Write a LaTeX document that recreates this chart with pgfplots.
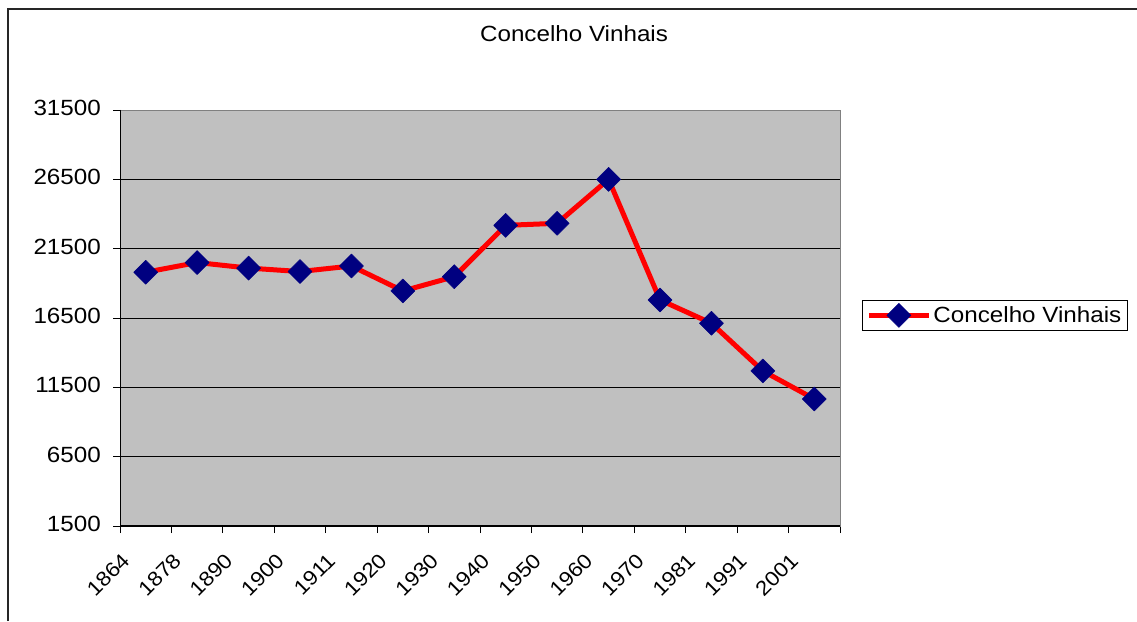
\documentclass[border=0pt]{standalone}
\usepackage{fontspec}
\setmainfont[FakeStretch=1.1]{Liberation Sans}
\usepackage{pgfplots}
\pgfplotsset{compat=1.18}
\definecolor{plotgray}{RGB}{192,192,192}
\definecolor{navymark}{RGB}{0,0,128}
\definecolor{framegray}{RGB}{128,128,128}
\newcommand\cf{\fontsize{22}{26}\selectfont}
\newcommand\xf{\fontsize{20.5}{24}\selectfont}
\begin{document}
\begin{tikzpicture}
\useasboundingbox (0pt,0pt) rectangle (1137pt,621pt);
\fill[white] (0pt,0pt) rectangle (1137pt,621pt);
\draw[black!85, line width=1.5pt] (8pt,0pt) -- (8pt,612pt) -- (1137pt,612pt);
\begin{axis}[
  at={(120pt,95pt)}, anchor=south west,
  scale only axis, width=720pt, height=416pt,
  xmin=0, xmax=14, ymin=1500, ymax=31500,
  xtick={0,...,14},
  xticklabels={1864,1878,1890,1900,1911,1920,1930,1940,1950,1960,1970,1981,1991,2001,{}},
  ytick={1500,6500,11500,16500,21500,26500,31500},
  scaled y ticks=false,
  /pgf/number format/.cd, set thousands separator={}, assume math mode=true,
  /pgfplots/.cd,
  tick align=outside, tick pos=left,
  major tick length=7pt,
  tick style={black, line width=0.8pt},
  ymajorgrids, major grid style={black, line width=0.8pt},
  axis line style={framegray, line width=0.8pt},
  axis background/.style={fill=plotgray},
  yticklabel style={font=\cf, anchor=east, inner sep=0pt, xshift=-12pt, yshift=2pt},
  xticklabel style={font=\xf, inner sep=0pt, xshift=6pt, yshift=-24pt, rotate=45, anchor=east},
  title={Concelho Vinhais},
  title style={at={(0.6306,1.1514)}, anchor=base, font=\cf, inner sep=0pt},
  legend style={at={(1.0306,0.5433)}, anchor=north west, draw=black, line width=0.8pt,
    font=\cf, inner xsep=4pt, inner ysep=3pt, fill=white},
  legend cell align=left,
  legend image code/.code={\draw[mark repeat=2,mark phase=2,#1] plot coordinates {(0pt,0pt) (30pt,0pt) (60pt,0pt)};},
]
\addplot[red, line width=5pt, line join=round,
  mark=square*, mark size=8.5pt,
  mark options={rotate=45, fill=navymark, draw=navymark, line width=0.5pt, solid}]
  coordinates {
  (0.5,19800) (1.5,20500) (2.5,20100) (3.5,19850) (4.5,20250)
  (5.5,18450) (6.5,19480) (7.5,23180) (8.5,23330) (9.5,26500)
  (10.5,17800) (11.5,16120) (12.5,12680) (13.5,10660)};
\addlegendentry{Concelho Vinhais}
\draw[black, line width=1.2pt] (rel axis cs:0,1) -- (rel axis cs:0,0) -- (rel axis cs:1,0);
\end{axis}
\end{tikzpicture}
\end{document}
